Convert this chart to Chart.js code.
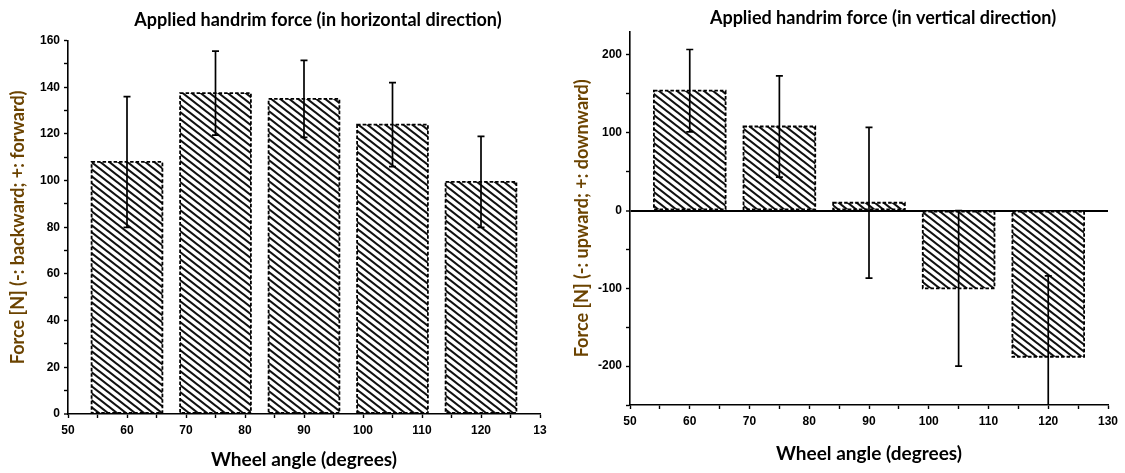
<!DOCTYPE html>
<html>
<head>
<meta charset="utf-8">
<script src="https://cdn.jsdelivr.net/npm/chart.js@4.4.1/dist/chart.umd.min.js"></script>
<style>
  html, body { margin: 0; padding: 0; background: #fff; }
  #wrap { position: relative; width: 1125px; height: 473px; overflow: hidden; }
  .box { position: absolute; top: 0; height: 473px; }
  #leftBox { left: 0; width: 560px; }
  #rightBox { left: 560px; width: 565px; }
</style>
</head>
<body>
<div id="wrap">
  <div class="box" id="leftBox"><canvas id="cLeft" width="560" height="473"></canvas></div>
  <div class="box" id="rightBox"><canvas id="cRight" width="565" height="473"></canvas></div>
</div>
<script>
// ---- Data ----
const wheelAngles = [60, 75, 90, 105, 120];
const horizontalForce = [108, 137.5, 135, 124, 99.5];
const horizontalError = [28, 18, 16.5, 18, 19.5];
const verticalForce = [154, 108, 10, -100, -188];
const verticalError = [53, 65, 97, 100, 104];

const leftXTickLabels = ['50', '60', '70', '80', '90', '100', '110', '120', '13'];
const rightXTickLabels = ['50', '60', '70', '80', '90', '100', '110', '120', '130'];
const leftYTickLabels = ['0', '20', '40', '60', '80', '100', '120', '140', '160'];
const rightYTickLabels = ['-200', '-100', '0', '100', '200'];

const titleLeft = 'Applied handrim force (in horizontal direction)';
const titleRight = 'Applied handrim force (in vertical direction)';
const xTitle = 'Wheel angle (degrees)';
const yTitleLeft = 'Force [N] (-: backward; +: forward)';
const yTitleRight = 'Force [N] (-: upward; +: downward)';

// ---- Styling helpers ----
function makeHatch(ctx) {
  const w = 9, h = 7;
  const c = document.createElement('canvas');
  c.width = w; c.height = h;
  const g = c.getContext('2d');
  g.fillStyle = '#ffffff';
  g.fillRect(0, 0, w, h);
  g.strokeStyle = '#111';
  g.lineWidth = 2.1;
  g.beginPath();
  for (let k = -1; k <= 1; k++) {
    g.moveTo(-2, -2 * h / w + k * h);
    g.lineTo(w + 2, (w + 2) * h / w + k * h);
  }
  g.stroke();
  return ctx.createPattern(c, 'repeat');
}

const errorBarsPlugin = {
  id: 'errorBars',
  afterDatasetsDraw(chart, args, opts) {
    const { ctx, chartArea, scales } = chart;
    const xs = scales.x, ys = scales.y;
    const meta = chart.getDatasetMeta(0);
    const ds = chart.data.datasets[0];
    ctx.save();
    ctx.beginPath();
    ctx.rect(chartArea.left, chartArea.top - 1, chartArea.right - chartArea.left, chartArea.bottom - chartArea.top + 1);
    ctx.clip();
    ctx.strokeStyle = '#000';
    ctx.lineWidth = 1.8;
    ctx.setLineDash([3.5, 2]);
    meta.data.forEach(bar => {
      const p = bar.getProps(['x', 'y', 'base', 'width'], true);
      ctx.strokeRect(p.x - p.width / 2, Math.min(p.y, p.base), p.width, Math.abs(p.base - p.y));
    });
    ctx.setLineDash([]);
    ctx.lineWidth = 1.7;
    (opts.errors || []).forEach((e, i) => {
      const pt = ds.data[i];
      const px = xs.getPixelForValue(pt.x);
      const top = ys.getPixelForValue(pt.y + e);
      const bot = ys.getPixelForValue(pt.y - e);
      ctx.beginPath();
      ctx.moveTo(px, top); ctx.lineTo(px, bot);
      ctx.moveTo(px - 3.5, top); ctx.lineTo(px + 3.5, top);
      ctx.moveTo(px - 3.5, bot); ctx.lineTo(px + 3.5, bot);
      ctx.stroke();
    });
    ctx.restore();
  }
};

const titleShiftPlugin = {
  id: 'titleShift',
  afterLayout(chart, args, opts) {
    const t = chart.titleBlock;
    if (t && opts.dx) { t.left += opts.dx; t.right += opts.dx; }
  }
};

const tickFont = { family: '"Liberation Sans", Arial, sans-serif', size: 12, weight: 'bold' };
const titleFont = { family: 'Lato, "Open Sans", sans-serif', size: 18, weight: 'bold' };
const xTitleFont = { family: 'Lato, "Open Sans", sans-serif', size: 19, weight: 'bold' };
const yTitleFont = { family: 'Lato, "Open Sans", sans-serif', size: 18, weight: 'bold' };

function buildChart(canvasId, cfg) {
  const canvas = document.getElementById(canvasId);
  const ctx = canvas.getContext('2d');
  const hatch = makeHatch(ctx);
  const points = wheelAngles.map((a, i) => ({ x: a, y: cfg.values[i] }));
  return new Chart(ctx, {
    type: 'bar',
    data: {
      datasets: [{
        data: points,
        backgroundColor: hatch,
        borderWidth: 0,
        categoryPercentage: 1,
        barPercentage: 2.4
      }]
    },
    plugins: [errorBarsPlugin, titleShiftPlugin],
    options: {
      responsive: false,
      animation: false,
      devicePixelRatio: 1,
      layout: { padding: { left: 0, right: cfg.padRight, top: 0, bottom: 0 } },
      plugins: {
        legend: { display: false },
        tooltip: { enabled: false },
        title: {
          display: true,
          text: cfg.title,
          color: '#000',
          font: titleFont,
          fullSize: false,
          padding: cfg.titlePad
        },
        errorBars: { errors: cfg.errors },
        titleShift: { dx: 14 }
      },
      scales: {
        x: {
          type: 'linear',
          min: 50, max: 130,
          offset: false,
          afterFit: s => { s.height = cfg.xHeight; },
          afterBuildTicks: s => { s.ticks = s.ticks.filter(t => t.value % 5 === 0); },
          border: { display: true, color: '#000', width: 1.6 },
          grid: { display: true, offset: false, drawOnChartArea: false, color: '#000', tickLength: 4, tickWidth: 1.4 },
          ticks: {
            stepSize: 5, autoSkip: false, maxRotation: 0, padding: 5,
            color: '#000', font: tickFont,
            callback: v => (v % 10 === 0 ? cfg.xLabels[(v - 50) / 10] : '')
          },
          title: { display: true, text: xTitle, color: '#000', font: xTitleFont, padding: { top: 0, bottom: cfg.xTitleBottom } }
        },
        y: {
          min: cfg.yMin, max: cfg.yMax,
          afterFit: s => { s.width = cfg.yWidth; },
          afterBuildTicks: s => { s.ticks = s.ticks.filter(t => t.value % cfg.yMinor === 0); },
          border: { display: true, color: '#000', width: 1.6 },
          grid: {
            display: true,
            drawOnChartArea: cfg.zeroLine,
            color: c => (c.tick && c.tick.value === 0 ? '#000' : 'rgba(0,0,0,0)'),
            lineWidth: c => (c.tick && c.tick.value === 0 ? 2 : 1),
            tickColor: '#000', tickLength: 4, tickWidth: 1.4
          },
          ticks: {
            stepSize: cfg.yMinor, autoSkip: false, padding: 4,
            color: '#000', font: tickFont,
            callback: v => {
              const idx = (v - cfg.yLabelStart) / cfg.yMajor;
              return (v % cfg.yMajor === 0 && cfg.yLabels[idx] !== undefined) ? cfg.yLabels[idx] : '';
            }
          },
          title: { display: true, text: cfg.yTitle, color: '#6b4300', font: yTitleFont, padding: { top: cfg.yTitleOffset, bottom: 0 } }
        }
      }
    }
  });
}

buildChart('cLeft', {
  values: horizontalForce, errors: horizontalError, title: titleLeft,
  xLabels: leftXTickLabels, yLabels: leftYTickLabels, yLabelStart: 0,
  yMin: 0, yMax: 160, yMajor: 20, yMinor: 10,
  yTitle: yTitleLeft, zeroLine: false,
  padRight: 20, yWidth: 68, xHeight: 59, xTitleBottom: 2, yTitleOffset: 7,
  titlePad: { top: 9, bottom: 10 }
});

buildChart('cRight', {
  values: verticalForce, errors: verticalError, title: titleRight,
  xLabels: rightXTickLabels, yLabels: rightYTickLabels, yLabelStart: -200,
  yMin: -250, yMax: 230, yMajor: 100, yMinor: 50,
  yTitle: yTitleRight, zeroLine: true,
  padRight: 17, yWidth: 70, xHeight: 68, xTitleBottom: 8, yTitleOffset: 11,
  titlePad: { top: 7, bottom: 3 }
});
</script>
</body>
</html>
